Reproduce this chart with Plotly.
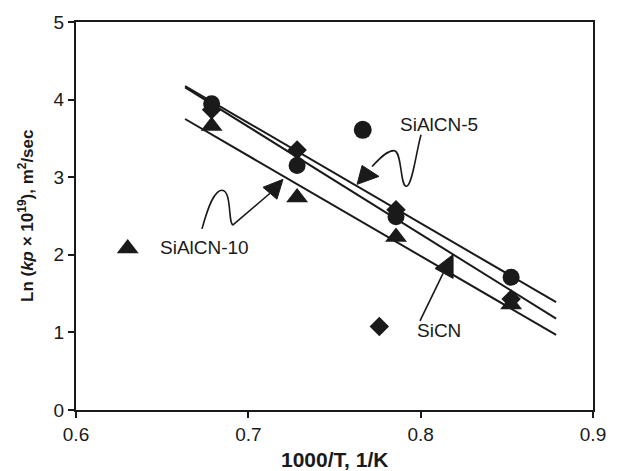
import plotly.graph_objects as go

# ---- data ----
inv_T = [0.6787, 0.7283, 0.7857, 0.8525]
siAlCN5 = [3.945, 3.15, 2.49, 1.71]      # circles
siCN = [3.87, 3.35, 2.58, 1.43]          # diamonds
siAlCN10 = [3.66, 2.74, 2.23, 1.36]      # triangles

fit_x = [0.6633, 0.8786]
fit_siAlCN5 = [4.175, 1.390]
fit_siCN = [4.158, 1.177]
fit_siAlCN10 = [3.75, 0.969]

# key symbols placed beside labels
key_names = ["SiAlCN-5", "SiAlCN-10", "SiCN"]
key_x = [0.7664, 0.6300, 0.7760]
key_y = [3.61, 2.08, 1.075]
label_x = [0.7869, 0.6476, 0.7967]
label_y = [3.673, 2.092, 1.02]

x_ticks = [0.6, 0.7, 0.8, 0.9]
y_ticks = [0, 1, 2, 3, 4, 5]

INK = "#1a1a1a"
FONT = "Liberation Sans, Arial, sans-serif"

fig = go.Figure()

for fy in [fit_siAlCN5, fit_siCN, fit_siAlCN10]:
    fig.add_trace(go.Scatter(x=fit_x, y=fy, mode="lines",
                             line=dict(color=INK, width=2), showlegend=False,
                             hoverinfo="skip"))

fig.add_trace(go.Scatter(x=inv_T, y=siCN, mode="markers",
                         marker=dict(symbol="diamond", size=15, color=INK),
                         showlegend=False))
fig.add_trace(go.Scatter(x=inv_T, y=siAlCN5, mode="markers",
                         marker=dict(symbol="circle", size=17, color=INK),
                         showlegend=False))
fig.add_trace(go.Scatter(x=inv_T, y=siAlCN10, mode="markers",
                         marker=dict(symbol="triangle-up", size=19, color=INK),
                         showlegend=False))

# key markers
fig.add_trace(go.Scatter(x=[key_x[0]], y=[key_y[0]], mode="markers",
                         marker=dict(symbol="circle", size=18, color=INK), showlegend=False))
fig.add_trace(go.Scatter(x=[key_x[1]], y=[key_y[1]], mode="markers",
                         marker=dict(symbol="triangle-up", size=19, color=INK), showlegend=False))
fig.add_trace(go.Scatter(x=[key_x[2]], y=[key_y[2]], mode="markers",
                         marker=dict(symbol="diamond", size=15, color=INK), showlegend=False))

for name, lx, ly in zip(key_names, label_x, label_y):
    fig.add_annotation(x=lx, y=ly, xref="x", yref="y", text=name, showarrow=False,
                       xanchor="left", yanchor="middle",
                       font=dict(family=FONT, size=19, color=INK))

# curvy / straight leader arrows (data coordinates)
arrow_paths = [
    "M 0.8002,3.546 C 0.7973,3.316 0.7950,2.870 0.7915,2.883 "
    "C 0.7880,2.895 0.7892,3.342 0.7845,3.342 C 0.7799,3.342 0.7752,3.214 0.7718,3.138",
    "M 0.6731,2.334 C 0.6766,2.615 0.6801,2.832 0.6847,2.832 "
    "C 0.6905,2.832 0.6882,2.398 0.6911,2.385 L 0.7126,2.793",
    "M 0.7996,1.148 L 0.8130,1.760",
]
arrow_heads = [
    "M 0.7631,2.908 L 0.7660,3.151 L 0.7758,3.010 Z",
    "M 0.7201,2.972 L 0.7085,2.870 L 0.7166,2.717 Z",
    "M 0.8188,2.003 L 0.8083,1.824 L 0.8188,1.696 Z",
]
for p in arrow_paths:
    fig.add_shape(type="path", path=p, xref="x", yref="y",
                  line=dict(color=INK, width=1.6))
for p in arrow_heads:
    fig.add_shape(type="path", path=p, xref="x", yref="y",
                  line=dict(color=INK, width=1), fillcolor=INK)

# axis titles
fig.add_annotation(x=0.5, y=0, xref="paper", yref="paper", yshift=-49,
                   text="<b>1000/T, 1/K</b>", showarrow=False,
                   xanchor="center", yanchor="middle",
                   font=dict(family=FONT, size=21, color=INK))
fig.add_annotation(x=0, y=0.5, xref="paper", yref="paper", xshift=-50,
                   text="<b>Ln (<i>kp</i> × 10<sup>19</sup>), m<sup>2</sup>/sec</b>",
                   showarrow=False, textangle=-90,
                   xanchor="center", yanchor="middle",
                   font=dict(family=FONT, size=17, color=INK))

axis_common = dict(showgrid=False, zeroline=False, showline=True, linecolor=INK,
                   linewidth=2, mirror=True, ticks="outside", ticklen=6,
                   tickwidth=1.5, tickcolor=INK,
                   tickfont=dict(family=FONT, size=19, color=INK))

fig.update_xaxes(range=[0.6, 0.9], tickvals=x_ticks,
                 ticktext=[f"{v:.1f}" for v in x_ticks], **axis_common)
fig.update_yaxes(range=[0, 5], tickvals=y_ticks,
                 ticktext=[str(v) for v in y_ticks], **axis_common)

fig.update_layout(width=625, height=471, margin=dict(l=76, r=32, t=18, b=61),
                  plot_bgcolor="white", paper_bgcolor="white", showlegend=False)

fig.write_html("out.html")
